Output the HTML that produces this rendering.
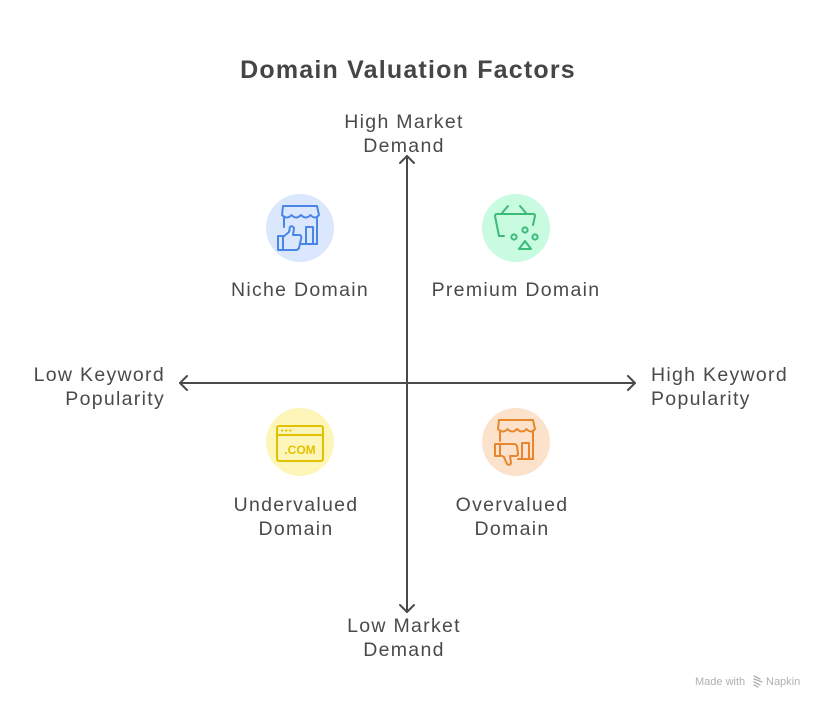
<!DOCTYPE html>
<html>
<head>
<meta charset="utf-8">
<style>
  html, body { margin: 0; padding: 0; background: #ffffff; }
  body { width: 828px; height: 708px; overflow: hidden; }
  svg { display: block; }
  text { font-family: "Liberation Sans", "DejaVu Sans", sans-serif; fill: #4a4a4a; }
</style>
</head>
<body>
<svg width="828" height="708" viewBox="0 0 828 708" xmlns="http://www.w3.org/2000/svg">
  <rect width="828" height="708" fill="#ffffff"/>

  <!-- Title -->
  <text x="408" y="78" text-anchor="middle" font-size="25" font-weight="bold" letter-spacing="1.2" style="fill:#454545">Domain Valuation Factors</text>

  <!-- Axes -->
  <g stroke="#4a4a4a" stroke-width="2" fill="none" stroke-linecap="round" stroke-linejoin="round">
    <line x1="407" y1="156" x2="407" y2="612"/>
    <polyline points="400,163 407,156 414,163"/>
    <polyline points="400,605 407,612 414,605"/>
    <line x1="180" y1="383" x2="635" y2="383"/>
    <polyline points="187,376 180,383 187,390"/>
    <polyline points="628,376 635,383 628,390"/>
  </g>

  <!-- Axis labels -->
  <g font-size="19.5" letter-spacing="1.3">
    <text x="404" y="128" text-anchor="middle">High Market</text>
    <text x="404" y="152" text-anchor="middle">Demand</text>
    <text x="404" y="632" text-anchor="middle">Low Market</text>
    <text x="404" y="656" text-anchor="middle">Demand</text>
    <text x="165" y="381" text-anchor="end">Low Keyword</text>
    <text x="165" y="405" text-anchor="end">Popularity</text>
    <text x="651" y="381">High Keyword</text>
    <text x="651" y="405">Popularity</text>
  </g>

  <!-- Circles -->
  <circle cx="300" cy="228" r="34" fill="#dbe7fd"/>
  <circle cx="516" cy="228" r="34" fill="#c8fbe0"/>
  <circle cx="300" cy="442" r="34" fill="#fdf6b8"/>
  <circle cx="516" cy="442" r="34" fill="#fde2cb"/>

  <!-- Niche icon (store + thumbs up) -->
  <g transform="translate(266,194)" stroke="#4a86e8" stroke-width="2" fill="none" stroke-linecap="round" stroke-linejoin="round">
    <path d="M17,12 L51,12 L53,21 Q49,26 44.5,21 Q40,26 35,21 Q30,26 25.5,21 Q21,26 16,21 Z"/>
    <line x1="18" y1="23" x2="18" y2="33"/>
    <line x1="51" y1="23" x2="51" y2="50"/>
    <line x1="34" y1="50" x2="51" y2="50"/>
    <path d="M40,50 L40,33 L47,33 L47,50"/>
    <path d="M12,42 L17,42 L17,56 L12,56 Z"/>
    <path d="M17,43 L23,38 L24,33 Q26,31 28,34 L27,41 L34,41 Q36,42 35,45 L33,54 Q32,56 30,56 L17,56"/>
  </g>

  <!-- Premium icon (basket + shapes) -->
  <g transform="translate(482,194)" stroke="#3cba78" stroke-width="2" fill="none" stroke-linecap="round" stroke-linejoin="round">
    <line x1="26" y1="12" x2="20" y2="19"/>
    <line x1="38" y1="12" x2="44" y2="19"/>
    <path d="M22,42 L17,42 L13,22 Q13,20 15,20 L51,20 Q53,20 53,22 L51,31"/>
    <circle cx="43" cy="36" r="2.6"/>
    <circle cx="32" cy="43" r="2.6"/>
    <circle cx="53" cy="43" r="2.6"/>
    <path d="M37,55 L43,47 L49,55 Z"/>
  </g>

  <!-- Undervalued icon (.COM browser) -->
  <g stroke="#e2c100" stroke-width="2" fill="none" stroke-linecap="round" stroke-linejoin="round">
    <rect x="277" y="426" width="46" height="35" rx="2"/>
    <line x1="277" y1="435" x2="323" y2="435"/>
    <line x1="282" y1="430.5" x2="282.5" y2="430.5"/>
    <line x1="286" y1="430.5" x2="286.5" y2="430.5"/>
    <line x1="290" y1="430.5" x2="290.5" y2="430.5"/>
  </g>
  <text x="300" y="454" text-anchor="middle" font-size="12" font-weight="bold" style="fill:#e2c100" font-family="Liberation Mono, monospace">.COM</text>

  <!-- Overvalued icon (store + thumbs down) -->
  <g transform="translate(482,408)" stroke="#e8862e" stroke-width="2" fill="none" stroke-linecap="round" stroke-linejoin="round">
    <path d="M17,12 L51,12 L53,21 Q49,26 44.5,21 Q40,26 35,21 Q30,26 25.5,21 Q21,26 16,21 Z"/>
    <line x1="18" y1="23" x2="18" y2="33"/>
    <line x1="51" y1="23" x2="51" y2="51"/>
    <line x1="36" y1="51" x2="51" y2="51"/>
    <path d="M40,51 L40,35 L47,35 L47,51"/>
    <path d="M13,36 L18,36 L18,48 L13,48 Z"/>
    <path d="M18,36 L32,36 Q34,36 35,38 L36,46 Q36,48 33,48 L28,48 L29,55 Q28,58 25,56 L22,49 L18,47"/>
  </g>

  <!-- Quadrant labels -->
  <g font-size="19.5" letter-spacing="1.3">
    <text x="300" y="296" text-anchor="middle">Niche Domain</text>
    <text x="516" y="296" text-anchor="middle">Premium Domain</text>
    <text x="296" y="511" text-anchor="middle">Undervalued</text>
    <text x="296" y="535" text-anchor="middle">Domain</text>
    <text x="512" y="511" text-anchor="middle">Overvalued</text>
    <text x="512" y="535" text-anchor="middle">Domain</text>
  </g>

  <!-- Watermark -->
  <text x="695" y="685" font-size="11" style="fill:#b0b0b0">Made with</text>
  <g stroke="#b0b0b0" stroke-width="1.3" fill="none" stroke-linecap="round">
    <line x1="754" y1="676" x2="760" y2="679"/>
    <line x1="754" y1="679" x2="762" y2="682"/>
    <line x1="754" y1="682" x2="760" y2="685"/>
    <line x1="754" y1="685" x2="758" y2="687"/>
  </g>
  <text x="766" y="685" font-size="11" style="fill:#b0b0b0">Napkin</text>
</svg>
</body>
</html>
